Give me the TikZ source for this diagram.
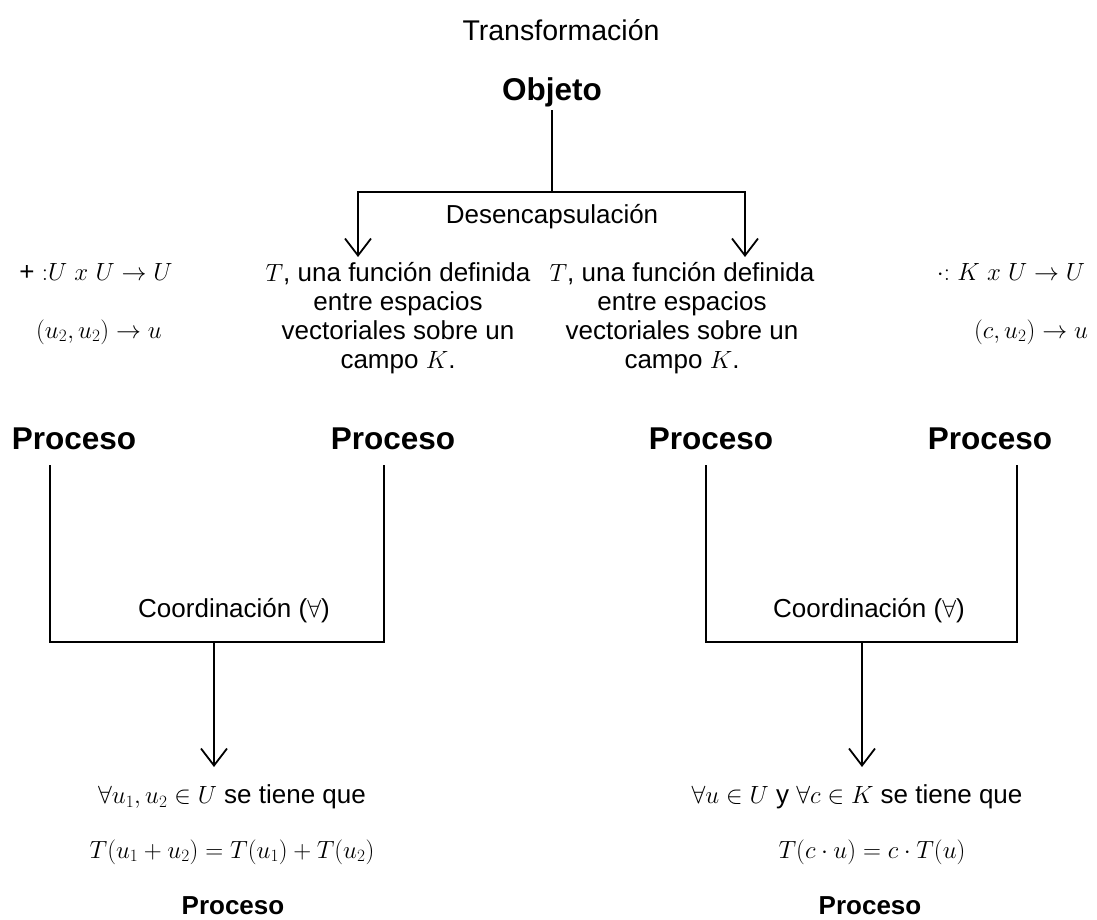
\documentclass[tikz,border=0pt]{standalone}
\usepackage{amsmath}
\usepackage{fontspec}
\setmainfont{Liberation Sans}
\usetikzlibrary{arrows.meta}
\tikzset{>={Straight Barb[length=17pt,width=26pt]}}
\tikzstyle{title} = [font=\fontsize{28.5}{32}\selectfont]
\tikzstyle{head} = [font=\fontsize{31.5}{34}\selectfont\bfseries]
\tikzstyle{foot} = [font=\fontsize{26}{30}\selectfont\bfseries, inner sep=1pt]
\tikzstyle{txt} = [font=\fontsize{26}{29}\selectfont]
\tikzstyle{block} = [txt, align=center, anchor=north]
\tikzstyle{line} = [line width=1.8pt]
\tikzstyle{arrow} = [line width=1.8pt, ->]

\begin{document}
\begin{tikzpicture}[x=1pt, y=-1pt]
\useasboundingbox (0,0) rectangle (1097,920);

\node (title) [title] at (561,30) {Transformación};
\node (obj) [head] at (552,92) {Objeto};

\coordinate (split) at (552,192);
\coordinate (a1) at (358,257);
\coordinate (a2) at (745,257);
\node (desc) [txt] at (552,217) {Desencapsulación};

\node (opsum) [txt] at (96,272) {+ $\mathord{:}U\ x\ U \rightarrow U$};
\node (mapsum) [txt] at (99,332) {$(u_2,u_2) \rightarrow u$};
\node (opmul) [txt] at (1011,272) {$\cdot\mathord{:}\ K\ x\ U \rightarrow U$};
\node (mapmul) [txt] at (1031,332) {$(c,u_2) \rightarrow u$};

\node (fun1) [block] at (398,259) {$T$, una función definida\\entre espacios\\vectoriales sobre un\\campo $K$.};
\node (fun2) [block] at (682,259) {$T$, una función definida\\entre espacios\\vectoriales sobre un\\campo $K$.};

\node (p1) [head] at (74,439) {Proceso};
\node (p2) [head] at (393,439) {Proceso};
\node (p3) [head] at (711,439) {Proceso};
\node (p4) [head] at (990,439) {Proceso};

\coordinate (c1) at (50,465);
\coordinate (c2) at (384,465);
\coordinate (m1) at (214,642);
\coordinate (e1) at (214,767);
\coordinate (c3) at (706,465);
\coordinate (c4) at (1017,465);
\coordinate (m2) at (862,642);
\coordinate (e2) at (862,767);

\node (coord1) [txt] at (234,611) {Coordinación ($\forall$)};
\node (coord2) [txt] at (869,611) {Coordinación ($\forall$)};

\node (sum1) [txt] at (232,797) {$\forall u_1,u_2 \in U$ se tiene que};
\node (sum2) [txt] at (232,852) {$T(u_1+u_2)=T(u_1)+T(u_2)$};
\node (p5) [foot] at (233,906) {Proceso};

\node (mul1) [txt] at (857,797) {$\forall u \in U$ y $\forall c \in K$ se tiene que};
\node (mul2) [txt] at (872,852) {$T(c\cdot u)=c\cdot T(u)$};
\node (p6) [foot] at (870,906) {Proceso};

\draw [line] (obj) -- (split);
\draw [arrow] (split) -| (a1);
\draw [arrow] (split) -| (a2);
\draw [line] (c1) |- (m1) -| (c2);
\draw [arrow] (m1) -- (e1);
\draw [line] (c3) |- (m2) -| (c4);
\draw [arrow] (m2) -- (e2);

\end{tikzpicture}
\end{document}
